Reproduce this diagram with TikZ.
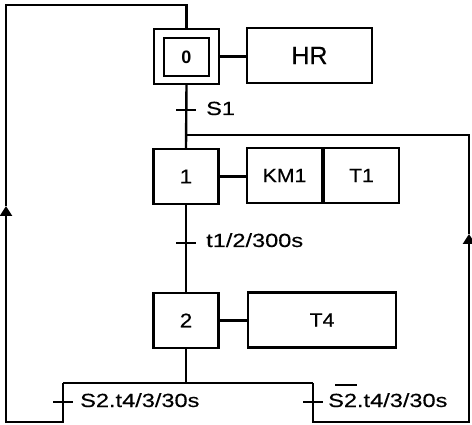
\documentclass[tikz,border=0pt]{standalone}
\usepackage{fontspec}
\setmainfont{Liberation Sans}[FakeBold=0.4]
\newfontfamily\hrfont{Liberation Sans}[FakeBold=0.4]
\newfontfamily\lblfont{Liberation Sans}[FakeStretch=1.24,FakeBold=0.4]
\newfontfamily\boxfont{Liberation Sans}[FakeStretch=1.12,FakeBold=0.4]
\newfontfamily\zerofont{Liberation Sans Bold}
\usetikzlibrary{arrows.meta}
\begin{document}
\begin{tikzpicture}[x=1pt,y=-1pt, line width=2.4pt,
  stepbox/.style={draw, minimum width=65pt, minimum height=55pt, inner sep=0pt, font=\fontsize{20}{22}\selectfont\boxfont},
  actbox/.style={draw, minimum height=55pt, inner sep=0pt, font=\fontsize{19}{21}\selectfont\boxfont},
  lbl/.style={anchor=base west, inner sep=0pt, font=\fontsize{19}{21}\selectfont\lblfont},
  tip/.style={-{Triangle[width=12pt,length=10pt]}}
]
\useasboundingbox (0,0) rectangle (472,425);
% steps
\node[stepbox] (s0) at (186.5,56.5) {};
\node[draw, minimum width=45pt, minimum height=38pt, inner sep=0pt, font=\fontsize{18}{20}\selectfont\zerofont] (s0i) at (186.5,57) {0};
\node[stepbox] (s1) at (186,176.5) {1};
\node[stepbox] (s2) at (186,320.5) {2};
% actions
\node[actbox, minimum width=125pt, font=\fontsize{25}{27}\selectfont\hrfont] (hr) at (309.5,55.5) {HR};
\node[actbox, minimum width=75pt] (km) at (284.5,175.5) {KM1};
\node[actbox, minimum width=75pt] (t1b) at (361.5,175.5) {T1};
\node[actbox, minimum width=148pt] (t4) at (322,320) {T4};
\draw (s0.east) -- (s0.east -| hr.west);
\draw (s1.east) -- (s1.east -| km.west);
\draw (s2.east) -- (s2.east -| t4.west);
% transitions
\coordinate (tr0) at (186,110);
\coordinate (tr1) at (186,243);
\coordinate (trL) at (63,402);
\coordinate (trR) at (313,402);
\draw (s0.south) -- (s1.north);
\draw (s1.south) -- (s2.north);
\foreach \t in {tr0,tr1,trL,trR} \draw ([xshift=-10pt]\t) -- ([xshift=10pt]\t);
\node[lbl] (l0) at (205,115) {S1};
\node[lbl] (l1) at (205,247) {t1/2/300s};
\node[lbl] (lL) at (79,407) {S2.t4/3/30s};
\node[lbl] (lR) at (327,407) {\rlap{\hspace{7pt}\rule[21pt]{22pt}{1.8pt}}S2.t4/3/30s};
% loops
\coordinate (jr) at (186,135);
\coordinate (rtop) at (469,135);
\coordinate (rarr) at (469,234);
\coordinate (rbot) at (469,422);
\coordinate (bR) at (313,422);
\coordinate (bL) at (63,422);
\coordinate (lbot) at (6,422);
\coordinate (larr) at (6,206);
\coordinate (ltop) at (6,5);
\coordinate (ctop) at (186.5,5);
\coordinate (div) at (186,383);
\coordinate (dl) at (63,383);
\coordinate (dr) at (313,383);
\draw (s2.south) -- (div);
\draw (dl) -- (dr);
\draw[tip] (dl) -- (bL) -- (lbot) -- (larr);
\draw (larr) -- (ltop) -- (ctop) -- (s0.north);
\draw[tip] (dr) -- (bR) -- (rbot) -- (rarr);
\draw (rarr) -- (rtop) -- (jr);
\end{tikzpicture}
\end{document}
